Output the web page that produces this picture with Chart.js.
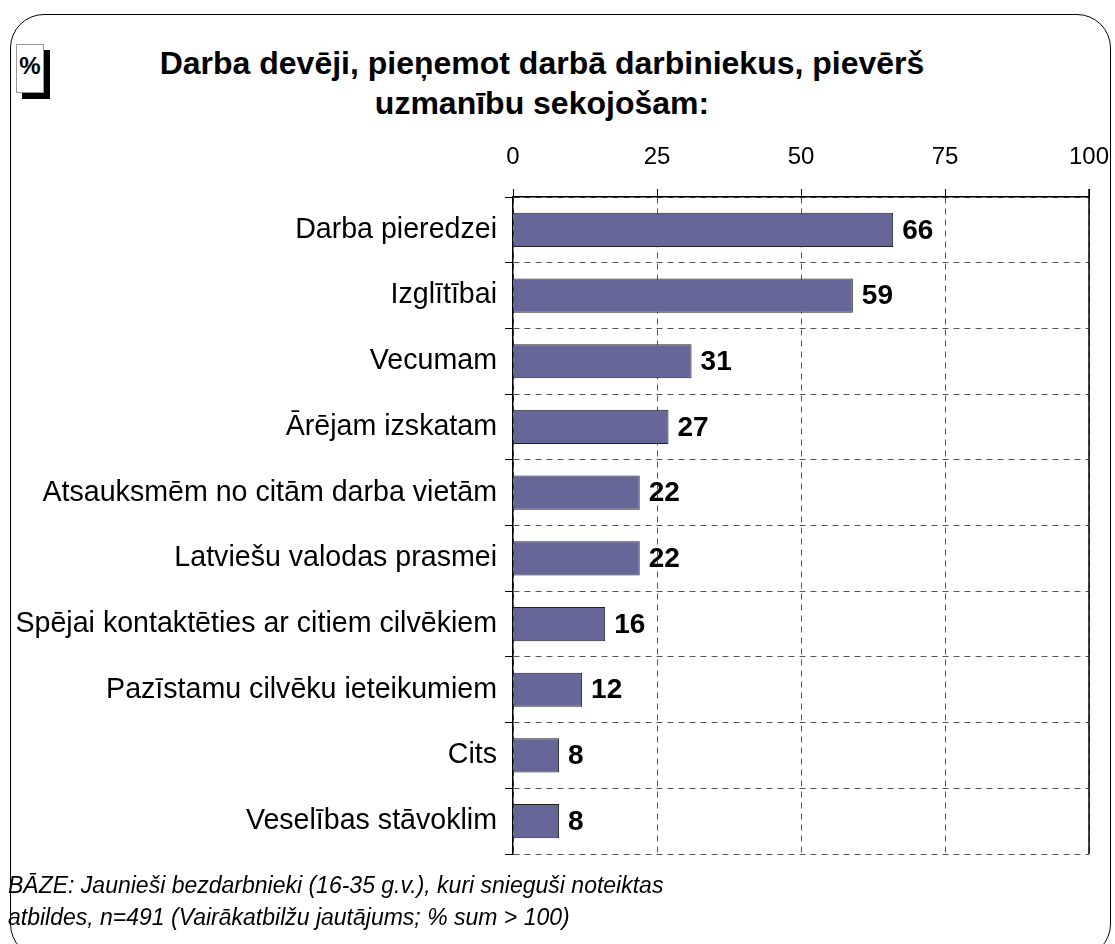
<!DOCTYPE html>
<html>
<head>
<meta charset="utf-8">
<script src="https://cdn.jsdelivr.net/npm/chart.js@4"></script>
<style>
  html, body { margin: 0; padding: 0; background: #fff; overflow: hidden; }
  body { width: 1115px; height: 944px; position: relative; font-family: "Liberation Sans", Arial, sans-serif; }
  #frame { position: absolute; left: 10px; top: 14px; width: 1099px; height: 942px;
           border: 1.5px solid #000; border-radius: 34px; }
  #pct { position: absolute; left: 16px; top: 44px; width: 28px; height: 49px; background: #fff;
         border: 1px solid #999; box-shadow: 6px 6px 0 #000; font-weight: bold; font-size: 24px;
         text-align: center; line-height: 26px; padding-top: 8px; box-sizing: border-box; }
  #title { position: absolute; left: 0; top: 43px; width: 1084px; text-align: center;
           font-weight: bold; font-size: 32px; line-height: 40px; }
  #note { position: absolute; left: 8px; top: 869px; font-style: italic; font-size: 23px; line-height: 32px; }
  canvas { position: absolute; left: 0; top: 0; }
</style>
</head>
<body>
<div id="frame"></div>
<div id="pct">%</div>
<div id="title">Darba devēji, pieņemot darbā darbiniekus, pievērš<br>uzmanību sekojošam:</div>
<canvas id="chart" width="1115" height="944"></canvas>
<div id="note">BĀZE: Jaunieši bezdarbnieki (16-35 g.v.), kuri snieguši noteiktas<br>atbildes, n=491 (Vairākatbilžu jautājums; % sum &gt; 100)</div>
<script>
// Survey answers, % of respondents
const categories = [
  "Darba pieredzei",
  "Izglītībai",
  "Vecumam",
  "Ārējam izskatam",
  "Atsauksmēm no citām darba vietām",
  "Latviešu valodas prasmei",
  "Spējai kontaktēties ar citiem cilvēkiem",
  "Pazīstamu cilvēku ieteikumiem",
  "Cits",
  "Veselības stāvoklim",
];
const values = [66, 59, 31, 27, 22, 22, 16, 12, 8, 8];
const axisTicks = [0, 25, 50, 75, 100];

const FONT = '"Liberation Sans", Arial, sans-serif';

// bold value labels at the end of each bar, plus the solid right edge of the plot
const barLabels = {
  id: "barLabels",
  afterDatasetsDraw(chart) {
    const ctx = chart.ctx;
    const meta = chart.getDatasetMeta(0);
    ctx.save();
    ctx.font = "bold 28px " + FONT;
    ctx.fillStyle = "#000";
    ctx.textAlign = "left";
    ctx.textBaseline = "middle";
    meta.data.forEach(function (bar, i) {
      ctx.fillText(String(values[i]), bar.x + 9, bar.y + 1);
    });
    ctx.restore();
  },
  afterDraw(chart) {
    const { ctx, chartArea } = chart;
    ctx.save();
    ctx.strokeStyle = "#000";
    ctx.lineWidth = 1.5;
    ctx.setLineDash([]);
    ctx.beginPath();
    ctx.moveTo(chartArea.right, chartArea.top - 8);
    ctx.lineTo(chartArea.right, chartArea.bottom);
    ctx.stroke();
    ctx.restore();
  },
};

new Chart(document.getElementById("chart"), {
  type: "bar",
  data: {
    labels: categories,
    datasets: [{
      data: values,
      backgroundColor: "#666699",
      borderColor: "#222",
      borderWidth: 1,
      barPercentage: 0.52,
      categoryPercentage: 1,
    }],
  },
  options: {
    indexAxis: "y",
    responsive: false,
    animation: false,
    devicePixelRatio: 1,
    layout: { padding: { left: 0, right: 26, top: 0, bottom: 90 } },
    plugins: { legend: { display: false }, tooltip: { enabled: false } },
    scales: {
      x: {
        position: "top",
        min: 0,
        max: 100,
        afterBuildTicks: (scale) => { scale.ticks = axisTicks.map((v) => ({ value: v })); },
        afterFit: (scale) => {
          scale.height = 197;
          scale.paddingLeft = 0;
          scale.paddingRight = 0;
        },
        ticks: { font: { size: 24, family: FONT }, color: "#000", padding: 17 },
        grid: {
          color: "#555",
          tickColor: "#000",
          tickLength: 8,
          tickBorderDash: [],
        },
        border: { color: "#000", width: 1.5, dash: [6, 5] },
      },
      y: {
        afterFit: (scale) => { scale.width = 513; },
        ticks: { font: { size: 28.6, family: FONT }, color: "#000", padding: 8 },
        grid: {
          offset: true,
          color: "#555",
          tickColor: "#000",
          tickLength: 8,
          tickBorderDash: [],
        },
        border: { color: "#000", width: 1.5, dash: [6, 5] },
      },
    },
  },
  plugins: [barLabels],
});
</script>
</body>
</html>
